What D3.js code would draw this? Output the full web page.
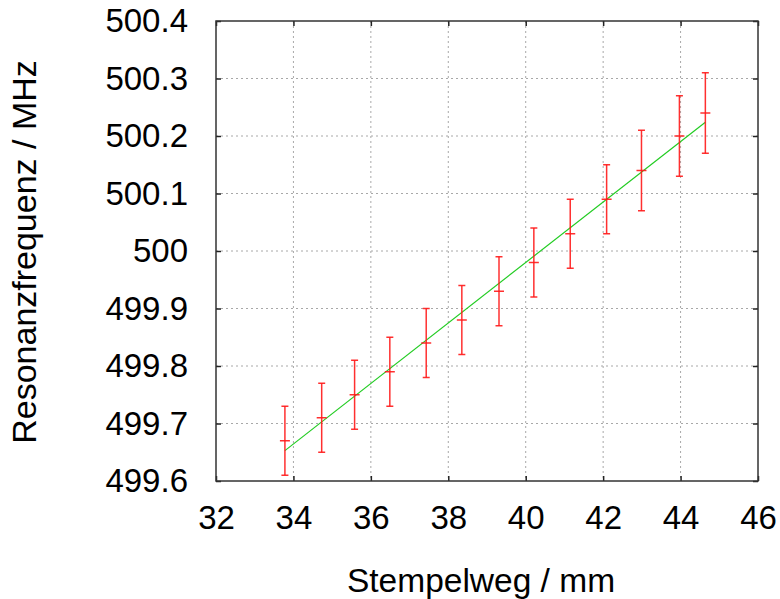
<!DOCTYPE html>
<html>
<head>
<meta charset="utf-8">
<script src="https://cdn.jsdelivr.net/npm/d3@7"></script>
<style>
  body { margin: 0; background: #fff; }
  svg { display: block; font-family: "Liberation Sans", Arial, sans-serif; }
</style>
</head>
<body>
<svg id="chart"></svg>
<script>
// measured data (Stempelweg in mm, Resonanzfrequenz in MHz, error in MHz)
const stempelweg = [33.78, 34.73, 35.58, 36.49, 37.43, 38.35, 39.31, 40.21, 41.15, 42.09, 42.99, 43.97, 44.64];
const frequenz   = [499.67, 499.71, 499.75, 499.79, 499.84, 499.88, 499.93, 499.98, 500.03, 500.09, 500.14, 500.20, 500.24];
const fehler     = [0.06, 0.06, 0.06, 0.06, 0.06, 0.06, 0.06, 0.06, 0.06, 0.06, 0.07, 0.07, 0.07];

// linear fit f(x) = a + b*x
const fitA = 497.876;
const fitB = 0.0526;

const xTicks = [32, 34, 36, 38, 40, 42, 44, 46];
const yTicks = [499.6, 499.7, 499.8, 499.9, 500.0, 500.1, 500.2, 500.3, 500.4];

const width = 780, height = 599;
const margin = {top: 21, right: 22, bottom: 118, left: 216};

const svg = d3.select('#chart')
    .attr('width', width)
    .attr('height', height);

const innerW = width - margin.left - margin.right;
const innerH = height - margin.top - margin.bottom;

const chart = svg.append('g')
    .attr('transform', `translate(${margin.left}, ${margin.top})`);

const xscale = d3.scaleLinear().domain([32, 46]).range([0, innerW]);
const yscale = d3.scaleLinear().domain([499.6, 500.4]).range([innerH, 0]);

// grid
chart.append('g').selectAll('line.gx')
    .data(xTicks.slice(1, -1))
    .join('line')
    .attr('x1', d => xscale(d)).attr('x2', d => xscale(d))
    .attr('y1', 0).attr('y2', innerH)
    .attr('stroke', '#a8a8a8').attr('stroke-width', 1)
    .attr('stroke-dasharray', '2,3');

chart.append('g').selectAll('line.gy')
    .data(yTicks.slice(1, -1))
    .join('line')
    .attr('x1', 0).attr('x2', innerW)
    .attr('y1', d => yscale(d)).attr('y2', d => yscale(d))
    .attr('stroke', '#a8a8a8').attr('stroke-width', 1)
    .attr('stroke-dasharray', '2,3');

// axes (ticks pointing inward)
const yfmt = d => String(+d.toFixed(1));

const xaxis_group = chart.append('g')
    .attr('transform', `translate(0, ${innerH})`)
    .call(d3.axisBottom(xscale).tickValues(xTicks).tickSize(-5).tickPadding(25));

const xtop_group = chart.append('g')
    .call(d3.axisTop(xscale).tickValues(xTicks).tickSize(-5).tickFormat(''));

const yaxis_group = chart.append('g')
    .call(d3.axisLeft(yscale).tickValues(yTicks).tickSize(-5).tickPadding(28).tickFormat(yfmt));

const yright_group = chart.append('g')
    .attr('transform', `translate(${innerW}, 0)`)
    .call(d3.axisRight(yscale).tickValues(yTicks).tickSize(-5).tickFormat(''));

chart.selectAll('.domain').remove();
chart.selectAll('.tick line').attr('stroke', '#222').attr('stroke-width', 1.5);
chart.selectAll('.tick text')
    .attr('font-family', '"Liberation Sans", Arial, sans-serif')
    .attr('font-size', '33px')
    .attr('fill', '#000');

// frame
chart.append('rect')
    .attr('x', 0).attr('y', 0)
    .attr('width', innerW).attr('height', innerH)
    .attr('fill', 'none')
    .attr('stroke', '#333').attr('stroke-width', 1.5);

// fit line
const x0 = d3.min(stempelweg), x1 = d3.max(stempelweg);
chart.append('line')
    .attr('x1', xscale(x0)).attr('y1', yscale(fitA + fitB * x0))
    .attr('x2', xscale(x1)).attr('y2', yscale(fitA + fitB * x1))
    .attr('stroke', '#22cc22').attr('stroke-width', 1.2);

// error bars
const points = stempelweg.map((x, i) => ({x: x, y: frequenz[i], e: fehler[i]}));
const bars = chart.append('g')
    .attr('stroke', '#ff1a1a').attr('stroke-width', 1.5).attr('stroke-opacity', 0.9);

bars.selectAll('line.v').data(points).join('line')
    .attr('x1', d => xscale(d.x)).attr('x2', d => xscale(d.x))
    .attr('y1', d => yscale(d.y - d.e)).attr('y2', d => yscale(d.y + d.e));
bars.selectAll('line.t').data(points).join('line')
    .attr('x1', d => xscale(d.x) - 3.5).attr('x2', d => xscale(d.x) + 3.5)
    .attr('y1', d => yscale(d.y + d.e)).attr('y2', d => yscale(d.y + d.e));
bars.selectAll('line.b').data(points).join('line')
    .attr('x1', d => xscale(d.x) - 3.5).attr('x2', d => xscale(d.x) + 3.5)
    .attr('y1', d => yscale(d.y - d.e)).attr('y2', d => yscale(d.y - d.e));
bars.selectAll('line.c').data(points).join('line')
    .attr('x1', d => xscale(d.x) - 5).attr('x2', d => xscale(d.x) + 5)
    .attr('y1', d => yscale(d.y)).attr('y2', d => yscale(d.y));

// axis titles
svg.append('text')
    .text('Stempelweg / mm')
    .attr('x', 481)
    .attr('y', 592)
    .attr('text-anchor', 'middle')
    .attr('font-size', '33.5px')
    .attr('fill', '#000');

svg.append('text')
    .text('Resonanzfrequenz / MHz')
    .attr('transform', `translate(36, 252) rotate(-90)`)
    .attr('text-anchor', 'middle')
    .attr('font-size', '34px')
    .attr('fill', '#000');
</script>
</body>
</html>
